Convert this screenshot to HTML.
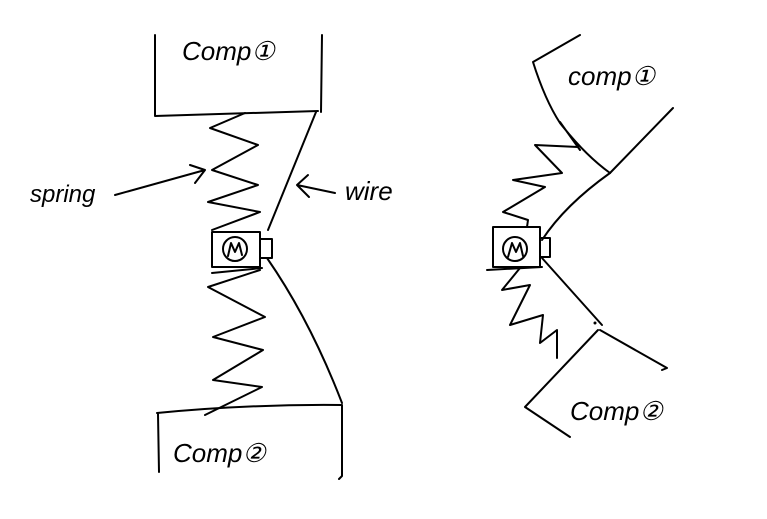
<!DOCTYPE html>
<html><head><meta charset="utf-8"><style>
html,body{margin:0;padding:0;background:#fff;width:767px;height:519px;overflow:hidden}
svg{display:block}
text{font-family:"Liberation Sans",sans-serif;fill:#000}
</style></head><body>
<svg width="767" height="519" viewBox="0 0 767 519" xmlns="http://www.w3.org/2000/svg">
<g fill="none" stroke="#000" stroke-width="2" stroke-linecap="round" stroke-linejoin="round">
<!-- LEFT DIAGRAM -->
<path d="M155 35 L155 116 L318 111 M322 35 L321 112"/>
<path d="M245 113 L210 128 L258 145 L212 170 L258 185 L208 202 L260 212 L212 230"/>
<path d="M316 112 L268 230"/>
<rect x="212" y="232" width="48" height="35"/>
<rect x="260" y="239" width="12" height="19"/>
<circle cx="235" cy="249" r="12"/>
<path d="M228 256 L231 243 L235 252 L239 243 L242 255"/>
<path d="M212 273 L262 268"/>
<path d="M260 270 L208 287 L265 317 L213 337 L263 350 L213 380 L262 387 L205 415"/>
<path d="M267 258 Q310 320 342 403"/>
<path d="M157 413 Q250 404 342 405 M158 414 L159 472 M342 405 L342 476 L339 479"/>
<path d="M115 195 L205 170 M190 165 L205 170 L195 183"/>
<path d="M335 193 L297 185 M308 175 L297 185 L309 197"/>
<!-- RIGHT DIAGRAM -->
<path d="M580 35 L533 62 Q545 100 560 123 Q585 155 610 173 M560 122 L580 150"/>
<path d="M673 108 L610 173"/>
<path d="M610 173 Q565 205 542 240"/>
<rect x="493" y="227" width="47" height="40"/>
<rect x="540" y="238" width="10" height="19"/>
<circle cx="515" cy="249" r="12"/>
<path d="M508 257 L512 243 L516 252 L520 243 L523 256"/>
<path d="M487 270 L542 267"/>
<path d="M578 147 L535 145 L562 173 L513 180 L545 187 L503 212 L528 220 L527 227"/>
<path d="M520 268 L502 290 L530 285 L510 325 L543 315 L540 343 L557 330 L557 358"/>
<path d="M542 258 L602 325"/>
<path d="M600 330 L667 368 L662 370"/>
<path d="M598 330 L525 407 L570 437"/>
</g>
<circle cx="595" cy="323" r="1.5" fill="#000"/>
<text x="182" y="60" font-size="26" font-style="italic">Comp①</text>
<text x="173" y="462" font-size="26" font-style="italic">Comp②</text>
<text x="30" y="202" font-size="24" font-style="italic">spring</text>
<text x="345" y="200" font-size="26" font-style="italic">wire</text>
<text x="568" y="85" font-size="26" font-style="italic">comp①</text>
<text x="570" y="420" font-size="26" font-style="italic">Comp②</text>
</svg>
</body></html>
